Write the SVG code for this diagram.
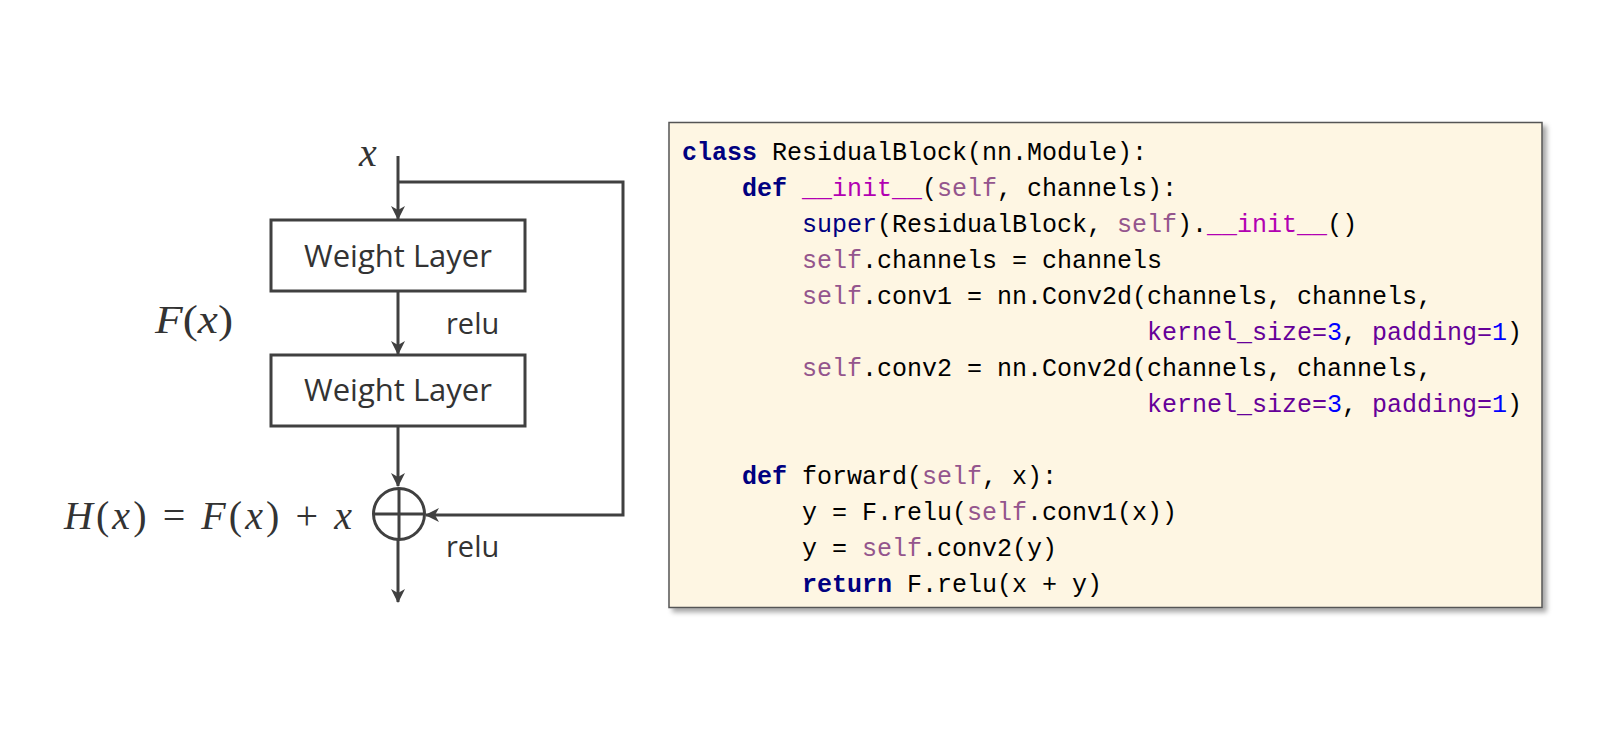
<svg xmlns="http://www.w3.org/2000/svg" width="1600" height="737" viewBox="0 0 1600 737">
<defs>
<marker id="ah" markerUnits="userSpaceOnUse" viewBox="0 0 14 14" refX="13" refY="7" markerWidth="14" markerHeight="14" orient="auto">
<path d="M0,0 L14,7 L0,14 L4,7 Z" fill="#404040"/>
</marker>
<filter id="sh" x="-5%" y="-5%" width="115%" height="115%">
<feDropShadow dx="4" dy="4" stdDeviation="2.5" flood-color="#000" flood-opacity="0.35"/>
</filter>
</defs>
<style>
.ln{fill:none;stroke:#404040;stroke-width:3}
.box{fill:#fff;stroke:#404040;stroke-width:3}
.lbl{font-family:"Open Sans","Noto Sans",sans-serif;font-size:31px;fill:#333}
.math{font-family:"Liberation Serif",serif;font-style:italic;font-size:40px;fill:#333}
.up{font-style:normal}
.code{font-family:"Liberation Mono",monospace;font-size:25px;fill:#000}
.kw{fill:#000080;font-weight:bold}
.nv{fill:#000080}
.mg{fill:#B200B2}
.sf{fill:#94558D}
.ka{fill:#660099}
.nm{fill:#0000FF}
</style>
<rect width="1600" height="737" fill="#fff"/>

<g id="connectors">
<path class="ln" d="M398,156 V219" marker-end="url(#ah)"/>
<path class="ln" d="M398,182 H623 V515 H426" marker-end="url(#ah)"/>
<path class="ln" d="M398,292 V354" marker-end="url(#ah)"/>
<path class="ln" d="M398,426 V486" marker-end="url(#ah)"/>
<path class="ln" d="M398,540 V602" marker-end="url(#ah)"/>
</g>

<g id="input-x">
<text class="math" x="368" y="166" text-anchor="middle">x</text>
</g>

<g id="weight-layer-1">
<rect class="box" x="271" y="220" width="254" height="71"/>
<text class="lbl" x="398" y="267" text-anchor="middle">Weight Layer</text>
</g>

<g id="relu-1">
<text class="lbl" x="446" y="334" style="font-size:29px">relu</text>
</g>

<g id="fx-label">
<text class="math" x="155" y="333" textLength="78" lengthAdjust="spacingAndGlyphs">F<tspan class="up">(</tspan>x<tspan class="up">)</tspan></text>
</g>

<g id="weight-layer-2">
<rect class="box" x="271" y="355" width="254" height="71"/>
<text class="lbl" x="398" y="401" text-anchor="middle">Weight Layer</text>
</g>

<g id="sum">
<circle class="ln" cx="399" cy="514" r="25.5"/>
<path class="ln" d="M373.5,514 H424.5 M399,488.5 V539.5"/>
</g>

<g id="hx-label">
<text class="math" x="64" y="529" textLength="288" lengthAdjust="spacing" xml:space="preserve">H<tspan class="up">(</tspan>x<tspan class="up">) = </tspan>F<tspan class="up">(</tspan>x<tspan class="up">) + </tspan>x</text>
</g>

<g id="relu-2">
<text class="lbl" x="446" y="557" style="font-size:29px">relu</text>
</g>

<g id="code-block">
<rect x="669" y="122.5" width="873" height="485" fill="#FEF6E3" stroke="#555" stroke-width="1.5" filter="url(#sh)"/>
<g class="code" xml:space="preserve">
<text x="682" y="160"><tspan class="kw">class</tspan> ResidualBlock(nn.Module):</text>
<text x="742" y="196"><tspan class="kw">def</tspan> <tspan class="mg">__init__</tspan>(<tspan class="sf">self</tspan>, channels):</text>
<text x="802" y="232"><tspan class="nv">super</tspan>(ResidualBlock, <tspan class="sf">self</tspan>).<tspan class="mg">__init__</tspan>()</text>
<text x="802" y="268"><tspan class="sf">self</tspan>.channels = channels</text>
<text x="802" y="304"><tspan class="sf">self</tspan>.conv1 = nn.Conv2d(channels, channels,</text>
<text x="1147" y="340"><tspan class="ka">kernel_size=</tspan><tspan class="nm">3</tspan>, <tspan class="ka">padding=</tspan><tspan class="nm">1</tspan>)</text>
<text x="802" y="376"><tspan class="sf">self</tspan>.conv2 = nn.Conv2d(channels, channels,</text>
<text x="1147" y="412"><tspan class="ka">kernel_size=</tspan><tspan class="nm">3</tspan>, <tspan class="ka">padding=</tspan><tspan class="nm">1</tspan>)</text>
<text x="742" y="484"><tspan class="kw">def</tspan> forward(<tspan class="sf">self</tspan>, x):</text>
<text x="802" y="520">y = F.relu(<tspan class="sf">self</tspan>.conv1(x))</text>
<text x="802" y="556">y = <tspan class="sf">self</tspan>.conv2(y)</text>
<text x="802" y="592"><tspan class="kw">return</tspan> F.relu(x + y)</text>
</g>
</g>
</svg>
